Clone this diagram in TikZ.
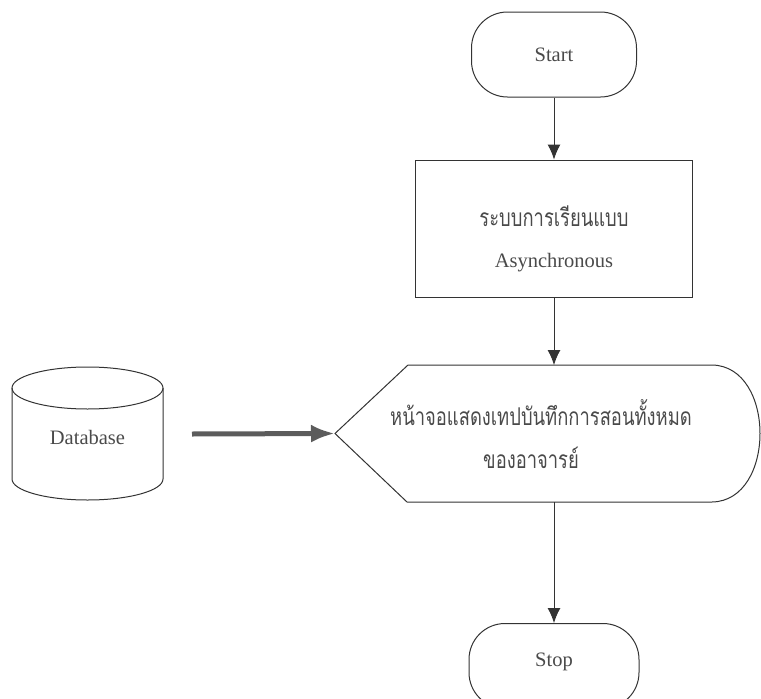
\documentclass[tikz,border=0pt]{standalone}
\usepackage{fontspec}
\setmainfont{Liberation Serif}
\newfontfamily\thai[Script=Thai, FakeStretch=0.75]{Loma}
\usetikzlibrary{arrows.meta}
\definecolor{ln}{HTML}{333333}
\definecolor{tx}{HTML}{4A4A4A}
\tikzset{
  shapeline/.style={draw=ln, line width=1pt},
  terminal/.style={shapeline, rectangle, rounded corners=36pt, inner sep=0pt},
  lbl/.style={text=tx, font=\fontsize{20.5}{24}\selectfont, inner sep=0pt},
  thlbl/.style={text=tx, font=\thai\fontsize{24.5}{28}\selectfont, inner sep=0pt},
  arr/.style={draw=ln, line width=1pt, -{Latex[length=15pt,width=13pt]}},
  thickarr/.style={draw=ln!80, line width=5pt, -{Latex[length=24pt,width=18pt]}}
}
\begin{document}
\begin{tikzpicture}[x=1pt,y=-1pt]
\useasboundingbox (0,0) rectangle (761,699);
% Start
\node[terminal, minimum width=165pt, minimum height=85pt] (start) at (554,54.5) {};
\node[lbl] (starttxt) at (554,54.5) {Start};
% Process
\node[shapeline, rectangle, minimum width=277pt, minimum height=137pt, inner sep=0pt] (proc) at (554,228.5) {};
\node[thlbl] (proc1) at (554,216) {ระบบการเรียนแบบ};
\node[lbl] (proc2) at (554,263) {Asynchronous};
% Display shape
\coordinate (dleft) at (335,433.5);
\coordinate (dtop) at (554,365);
\coordinate (dbot) at (554,502);
\draw[shapeline] (dleft) -- (408,365) -- (712,365) .. controls (776,366) and (776,501) .. (712,502) -- (407,502) -- cycle;
\node[thlbl] (disp1) at (541,413) {หน้าจอแสดงเทปบันทึกการสอนทั้งหมด};
\node[thlbl] (disp2) at (531,458) {ของอาจารย์};
% Database
\draw[shapeline] (12,388) -- (12,479) arc[start angle=180, end angle=360, x radius=75.5pt, y radius=21pt] -- (163,388);
\draw[shapeline] (87.5,388) ellipse[x radius=75.5pt, y radius=21pt];
\node[lbl] (db) at (87.5,437) {Database};
\coordinate (dbout) at (192,434);
% Stop
\node[terminal, minimum width=170pt, minimum height=85pt] (stop) at (554,666) {};
\node[lbl] (stoptxt) at (554,662) {Stop};
% connectors
\draw[arr] (start.south) -- (proc.north);
\draw[arr] (proc.south) -- (dtop);
\draw[arr] (dbot) -- (stop.north);
\draw[thickarr] (dbout) -- (dleft);
\end{tikzpicture}
\end{document}
